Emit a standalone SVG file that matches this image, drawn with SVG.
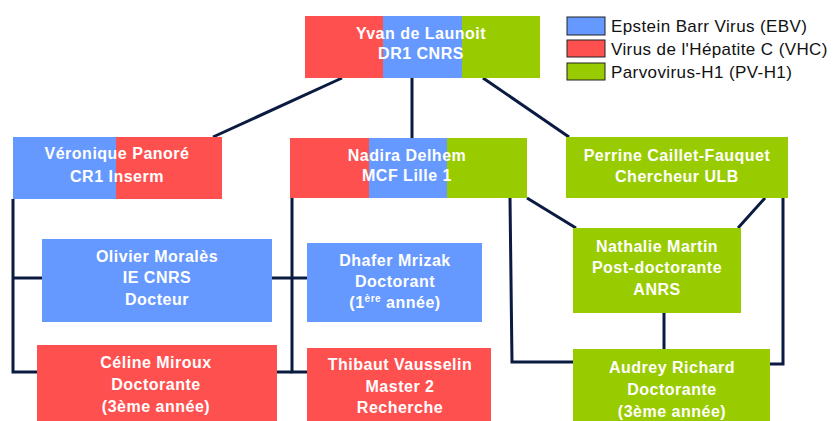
<svg xmlns="http://www.w3.org/2000/svg" width="838" height="421" viewBox="0 0 838 421">
<style>
.r{fill:#FF5050}.b{fill:#6699FF}.g{fill:#99CC00}
.t{font-family:"Liberation Sans",Arial,sans-serif;font-weight:bold;font-size:16px;letter-spacing:0.5px;fill:#fff;text-anchor:middle}
.lg{font-family:"Liberation Sans",Arial,sans-serif;font-size:17px;letter-spacing:0.4px;fill:#111}
.sw{stroke:#222;stroke-width:1}
#connectors line,#connectors polyline{stroke:#0a1a40;stroke-width:3;fill:none}
</style>
<rect width="838" height="421" fill="#fff"/>
<g id="connectors">
<line x1="342" y1="78" x2="213" y2="137"/>
<line x1="412" y1="78" x2="412" y2="138"/>
<line x1="483" y1="78" x2="569" y2="137"/>
<polyline points="13,199 13,372 37,372"/>
<line x1="13" y1="278" x2="42" y2="278"/>
<polyline points="292,198 292,372 307,372"/>
<line x1="272" y1="278" x2="307" y2="278"/>
<line x1="277" y1="372" x2="292" y2="372"/>
<polyline points="510,198 512,362 573,362"/>
<line x1="527" y1="198" x2="576" y2="228"/>
<line x1="765" y1="198" x2="738" y2="228"/>
<polyline points="783,198 783,364 770,364"/>
<line x1="664" y1="313" x2="664" y2="349"/>
</g>
<g id="legend">
<rect class="b sw" x="567" y="17" width="38" height="18"/>
<rect class="r sw" x="567" y="40" width="38" height="17"/>
<rect class="g sw" x="567" y="63" width="38" height="17"/>
<text class="lg" x="611" y="32">Epstein Barr Virus (EBV)</text>
<text class="lg" x="611" y="55">Virus de l'Hépatite C (VHC)</text>
<text class="lg" x="611" y="78">Parvovirus-H1 (PV-H1)</text>
</g>
<g id="root">
<rect class="r" x="305" y="16" width="79" height="62"/>
<rect class="b" x="383" y="16" width="80" height="62"/>
<rect class="g" x="462" y="16" width="78" height="62"/>
<text class="t" x="421" y="39">Yvan de Launoit</text>
<text class="t" x="421" y="59">DR1 CNRS</text>
</g>
<g id="veronique">
<rect class="b" x="13" y="137" width="104" height="62"/>
<rect class="r" x="116" y="137" width="106" height="62"/>
<text class="t" x="117" y="159">Véronique Panoré</text>
<text class="t" x="117" y="182">CR1 Inserm</text>
</g>
<g id="nadira">
<rect class="r" x="290" y="138" width="80" height="60"/>
<rect class="b" x="369" y="138" width="79" height="60"/>
<rect class="g" x="447" y="138" width="80" height="60"/>
<text class="t" x="407" y="161">Nadira Delhem</text>
<text class="t" x="407" y="181">MCF Lille 1</text>
</g>
<g id="perrine">
<rect class="g" x="566" y="137" width="222" height="61"/>
<text class="t" x="677" y="161">Perrine Caillet-Fauquet</text>
<text class="t" x="677" y="182">Chercheur ULB</text>
</g>
<g id="olivier">
<rect class="b" x="42" y="239" width="230" height="83"/>
<text class="t" x="157" y="262">Olivier Moralès</text>
<text class="t" x="157" y="283">IE CNRS</text>
<text class="t" x="157" y="305">Docteur</text>
</g>
<g id="dhafer">
<rect class="b" x="307" y="243" width="175" height="79"/>
<text class="t" x="395" y="266">Dhafer Mrizak</text>
<text class="t" x="395" y="287">Doctorant</text>
<text class="t" x="395" y="308">(1<tspan font-size="10" dy="-6">ère</tspan><tspan dy="6"> année)</tspan></text>
</g>
<g id="nathalie">
<rect class="g" x="573" y="228" width="168" height="85"/>
<text class="t" x="657" y="252">Nathalie Martin</text>
<text class="t" x="657" y="273">Post-doctorante</text>
<text class="t" x="657" y="295">ANRS</text>
</g>
<g id="celine">
<rect class="r" x="37" y="345" width="240" height="76"/>
<text class="t" x="156" y="368">Céline Miroux</text>
<text class="t" x="156" y="390">Doctorante</text>
<text class="t" x="156" y="412">(3ème année)</text>
</g>
<g id="thibaut">
<rect class="r" x="307" y="348" width="184" height="73"/>
<text class="t" x="400" y="370">Thibaut Vausselin</text>
<text class="t" x="400" y="392">Master 2</text>
<text class="t" x="400" y="413">Recherche</text>
</g>
<g id="audrey">
<rect class="g" x="573" y="349" width="197" height="72"/>
<text class="t" x="672" y="373">Audrey Richard</text>
<text class="t" x="672" y="395">Doctorante</text>
<text class="t" x="672" y="417">(3ème année)</text>
</g>
</svg>
